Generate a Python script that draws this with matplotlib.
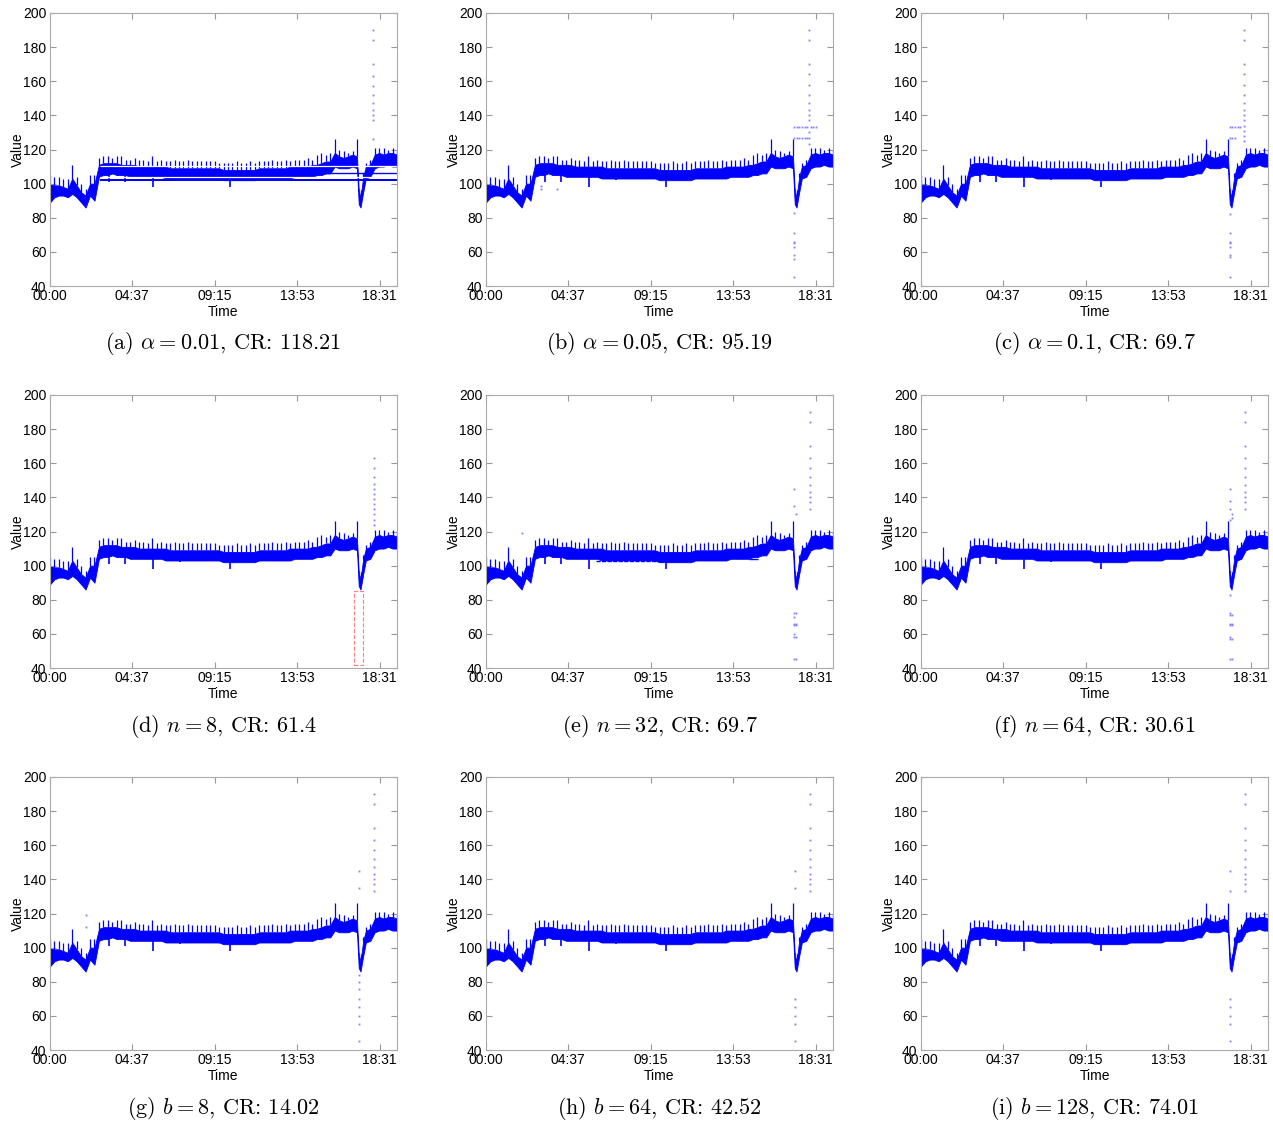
import numpy as np
import matplotlib.pyplot as plt
from matplotlib.patches import Rectangle

plt.rcParams['mathtext.fontset'] = 'cm'

# Reconstructed signal (hours)
t = [0, 0.25, 0.5, 0.75, 1.0, 1.25, 1.5, 1.75, 2.0, 2.25, 2.5, 2.75,
     3.0, 3.25, 3.5, 3.75, 4.0, 4.25, 4.5, 4.75, 5.0, 5.25, 5.5, 5.75,
     6.0, 6.25, 6.5, 6.75, 7.0, 7.25, 7.5, 7.75, 8.0, 8.25, 8.5, 8.75,
     9.0, 9.25, 9.5, 9.75, 10.0, 10.25, 10.5, 10.75, 11.0, 11.25, 11.5, 11.75,
     12.0, 12.25, 12.5, 12.75, 13.0, 13.25, 13.5, 13.75, 14.0, 14.25, 14.5, 14.75,
     15.0, 15.25, 15.5, 15.75, 16.0, 16.25, 16.5, 16.75, 17.0, 17.25,
     17.35, 17.45, 17.6, 17.75, 18.0, 18.25, 18.5, 18.75, 19.0, 19.25, 19.5]
lo = [89, 92, 93, 93, 92, 94, 92, 89, 86, 93, 90, 104,
      105, 105, 106, 105, 105, 105, 104, 104, 104, 104, 104, 104,
      104, 104, 103, 103, 103, 103, 103, 103, 103, 103, 103, 103,
      103, 103, 103, 102, 102, 102, 102, 102, 102, 102, 102, 103,
      103, 103, 103, 103, 103, 103, 103, 104, 104, 104, 104, 104,
      105, 105, 106, 106, 110, 109, 109, 109, 110, 109,
      88, 86, 95, 103, 104, 109, 110, 110, 111, 110, 110]
mid = [100, 99, 99, 98, 97, 103, 99, 95, 93, 100, 100, 111,
       112, 112, 112, 112, 111, 111, 111, 111, 110, 110, 110, 110,
       110, 110, 110, 109, 109, 109, 109, 109, 109, 109, 109, 109,
       109, 109, 109, 108, 108, 108, 108, 108, 108, 108, 108, 109,
       109, 109, 109, 109, 109, 109, 110, 110, 110, 110, 110, 111,
       111, 112, 113, 113, 118, 116, 115, 116, 117, 116,
       96, 92, 104, 110, 111, 117, 118, 117, 118, 118, 117]
hi = [105, 104, 104, 103, 103, 111, 104, 100, 97, 105, 105, 115,
      116, 116, 115, 116, 116, 114, 114, 115, 114, 114, 113, 116,
      113, 114, 113, 113, 114, 113, 113, 114, 113, 113, 113, 113,
      113, 113, 112, 112, 112, 112, 113, 112, 112, 113, 112, 113,
      113, 113, 114, 113, 113, 114, 113, 114, 114, 114, 115, 114,
      117, 118, 117, 118, 126, 120, 119, 118, 119, 126,
      97, 96, 106, 112, 114, 121, 121, 121, 120, 121, 120]

# downward dips present in every panel
dip_t = [3.3, 4.2, 5.8, 7.3, 10.1]
dip_v = [101, 101, 98, 102, 98]

# outlier dots per panel: (time, values)
dots = {
    'a': [(18.15, [190, 184, 170, 163, 157, 152, 147, 143, 140, 137, 126])],
    'b': [(17.3, [45, 56, 58, 63, 65, 66, 71, 83]),
          (18.13, [190, 184, 170, 164, 158, 152, 147, 143, 140, 137, 130, 127, 123]),
          ([17.3, 17.45, 17.6, 17.75, 17.9, 18.05, 18.25, 18.4, 18.55], 133),
          ([17.3, 17.45, 17.6, 17.75, 17.9, 18.05], 127),
          ([3.1, 3.1, 4.0], [97, 98.5, 97])],
    'c': [(17.36, [45, 57, 58, 63, 65, 66, 71, 82]),
          (18.17, [190, 184, 170, 164, 158, 152, 147, 143, 140, 137, 134, 131, 128, 125]),
          ([17.36, 17.5, 17.65, 17.8, 17.95], 133),
          ([17.36, 17.5, 17.65], 127)],
    'd': [(18.2, [163, 157, 152, 148, 145, 142, 139, 136, 133, 130, 127, 124])],
    'e': [(17.3, [45, 58, 60, 65, 66, 70, 72, 145, 135]),
          (17.42, [45, 58, 65, 66, 72, 130]),
          (18.2, [190, 184, 170, 163, 157, 152, 147, 143, 140, 137, 133]),
          (2.0, [119])],
    'f': [(17.35, [45, 57, 58, 65, 66, 71, 72, 83, 145, 138, 133, 127]),
          (17.45, [45, 57, 65, 66, 71, 130, 128]),
          (18.2, [190, 184, 170, 163, 157, 152, 147, 143, 140, 137, 133])],
    'g': [(17.35, [45, 55, 60, 65, 70, 76, 80, 84, 145, 135]),
          (18.2, [190, 184, 170, 163, 157, 152, 147, 143, 140, 137, 133]),
          (2.0, [119, 112])],
    'h': [(17.35, [45, 55, 60, 65, 70, 145, 135]),
          (18.2, [190, 184, 170, 163, 157, 152, 147, 143, 140, 137, 133])],
    'i': [(17.35, [45, 55, 60, 65, 70, 145, 133]),
          (18.2, [190, 184, 170, 163, 157, 152, 147, 143, 140, 137, 133])],
}

captions = {
    'a': r'(a) $\alpha = 0.01$, CR: 118.21',
    'b': r'(b) $\alpha = 0.05$, CR: 95.19',
    'c': r'(c) $\alpha = 0.1$, CR: 69.7',
    'd': r'(d) $n = 8$, CR: 61.4',
    'e': r'(e) $n = 32$, CR: 69.7',
    'f': r'(f) $n = 64$, CR: 30.61',
    'g': r'(g) $b = 8$, CR: 14.02',
    'h': r'(h) $b = 64$, CR: 42.52',
    'i': r'(i) $b = 128$, CR: 74.01',
}

tick_pos = [0, 4.629, 9.258, 13.888, 18.517]
tick_lab = ['00:00', '04:37', '09:15', '13:53', '18:31']

W, H = 1273, 1123
fig = plt.figure(figsize=(W / 100, H / 100), dpi=100)

col_left = [50, 486, 921]
row_top = [13, 395, 777]
aw, ah = 347, 273

for k, key in enumerate('abcdefghi'):
    r, c = divmod(k, 3)
    ax = fig.add_axes([col_left[c] / W, 1 - (row_top[r] + ah) / H, aw / W, ah / H])

    ax.fill_between(t, lo, mid, color='#0000ff', lw=0.6)
    ax.vlines(t, mid, hi, color='#0000ff', lw=0.9)
    ax.vlines(dip_t, [106] * len(dip_t), dip_v, color='#0000ff', lw=1.2)

    if key == 'a':
        ax.fill_between([2.8, 19.5], 101.8, 103.0, color='#0000ff', lw=0)
        ax.hlines([103.9, 110.6], 2.8, 19.5, color='white', lw=0.9)
        ax.hlines([106.5], 2.8, 19.5, color='#0000ff', lw=1.0)
    if key == 'e':
        ax.hlines([102.5], 6.2, 11.8, color='#0000ff', lw=1.0, linestyles=(0, (3, 1)))
        ax.hlines([104], 14.8, 15.3, color='#0000ff', lw=1.0)

    for xs, vs in dots[key]:
        if np.isscalar(xs):
            xs = [xs] * len(vs)
        if np.isscalar(vs):
            vs = [vs] * len(xs)
        ax.plot(xs, vs, ls='none', marker='s', ms=1.3, mew=0, color='#7f7fff')

    if key == 'd':
        ax.add_patch(Rectangle((17.09, 42), 0.49, 43, fill=False,
                               ec='#ff8080', lw=0.8, ls='--'))

    ax.set_xlim(0, 19.5)
    ax.set_ylim(40, 200)
    ax.set_yticks(range(40, 201, 20))
    ax.set_xticks(tick_pos)
    ax.set_xticklabels(tick_lab)
    ax.tick_params(direction='in', top=True, right=True, length=4,
                   color='#999999', labelsize=10, pad=2.5)
    for lab in ax.get_xticklabels() + ax.get_yticklabels():
        lab.set_family('Liberation Sans')
    for s in ax.spines.values():
        s.set_color('#aaaaaa')
        s.set_linewidth(0.8)
    ax.set_xlabel('Time', family='Liberation Sans', fontsize=10, labelpad=1)
    ax.set_ylabel('Value', family='Liberation Sans', fontsize=10, labelpad=-1)

    cx = (col_left[c] + aw / 2) / W
    cy = 1 - (row_top[r] + 331) / H
    fig.text(cx, cy, captions[key], ha='center', va='center',
             family='cmr10', fontsize=16)

fig.savefig('out.png', dpi=100)
